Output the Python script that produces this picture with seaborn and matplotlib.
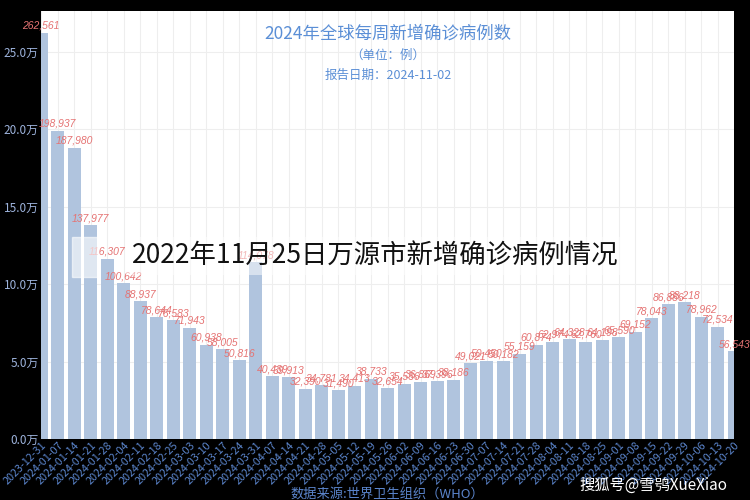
import pandas as pd
import seaborn as sns
import matplotlib.pyplot as plt
from matplotlib.patches import Rectangle

# Weekly report dates (week start) and new confirmed cases.
weeks = [
    '2023-12-31', '2024-01-07', '2024-01-14', '2024-01-21', '2024-01-28',
    '2024-02-04', '2024-02-11', '2024-02-18', '2024-02-25', '2024-03-03',
    '2024-03-10', '2024-03-17', '2024-03-24', '2024-03-31', '2024-04-07',
    '2024-04-14', '2024-04-21', '2024-04-28', '2024-05-05', '2024-05-12',
    '2024-05-19', '2024-05-26', '2024-06-02', '2024-06-09', '2024-06-16',
    '2024-06-23', '2024-06-30', '2024-07-07', '2024-07-14', '2024-07-21',
    '2024-07-28', '2024-08-04', '2024-08-11', '2024-08-18', '2024-08-25',
    '2024-09-01', '2024-09-08', '2024-09-15', '2024-09-22', '2024-09-29',
    '2024-10-06', '2024-10-13', '2024-10-20',
]
cases = [
    262561, 198937, 187980, 137977, 116307,
    100642, 88937, 78644, 76583, 71943,
    60938, 58005, 50816, 114078, 40439,
    39913, 32390, 34781, 31490, 34413,
    38733, 32654, 35536, 36869, 37396,
    38186, 49021, 50450, 50182, 55159,
    60874, 62974, 64328, 62760, 64198,
    65590, 69152, 78043, 86886, 88218,
    78962, 72534, 56543,
]
y_ticks = [0, 50000, 100000, 150000, 200000, 250000]

df = pd.DataFrame({'week': weeks, 'cases': cases})

cjk = ['Noto Sans CJK SC', 'DejaVu Sans']
plt.rcParams['font.family'] = cjk

fig = plt.figure(figsize=(7.5, 5), dpi=100, facecolor='black')
ax = fig.add_axes([0.055, 0.122, 0.924, 0.856])
ax.set_facecolor('white')

sns.barplot(data=df, x='week', y='cases', color='#b0c4de', saturation=1,
            width=0.78, ax=ax, zorder=2)

# Value labels above each bar
for i, v in enumerate(cases):
    ax.annotate(f'{v:,}', (i, v), xytext=(0, 1.5), textcoords='offset points',
                ha='center', va='bottom', fontsize=7.5, color='#e57373',
                style='italic', family='Liberation Sans', zorder=3)

ax.set_xlim(0, len(weeks) - 1)
ax.set_ylim(0, max(cases) * 1.053)
ax.set_yticks(y_ticks)
ax.set_yticklabels([f'{t / 10000:.1f}万' for t in y_ticks], color='#9db3dc', fontsize=8.5)
ax.tick_params(axis='x', labelrotation=45, labelsize=7.8, labelcolor='#5b85cc', length=0, pad=1)
ax.tick_params(axis='y', length=0, pad=2)
for lab in ax.get_xticklabels():
    lab.set_ha('right')
    lab.set_rotation_mode('anchor')

ax.grid(True, color='#eeeeee', linewidth=0.8, zorder=0)
ax.set_axisbelow(True)
for s in ax.spines.values():
    s.set_visible(False)

ax.set_xlabel('数据来源:世界卫生组织（WHO）', color='#5b85cc', fontsize=9.5, labelpad=1)
ax.set_ylabel('')

# Titles inside the plot area
ax.text(0.5, 0.948, '2024年全球每周新增确诊病例数', transform=ax.transAxes,
        ha='center', va='center', fontsize=12.5, color='#5b8fd6')
ax.text(0.5, 0.897, '（单位：例）', transform=ax.transAxes,
        ha='center', va='center', fontsize=9, color='#5b8fd6')
ax.text(0.5, 0.850, '报告日期：2024-11-02', transform=ax.transAxes,
        ha='center', va='center', fontsize=9, color='#5b8fd6')

# Overlaid watermark texts
fig.patches.append(Rectangle((72 / 750, 1 - 277 / 500), 26 / 750, 40 / 500,
                             transform=fig.transFigure, color='white', alpha=0.6, zorder=5))
fig.text(0.5, 1 - 256 / 500, '2022年11月25日万源市新增确诊病例情况', ha='center', va='center',
         fontsize=19, color='#111111', zorder=6,
         bbox=dict(facecolor='white', alpha=0.5, edgecolor='none', pad=4))
fig.text(0.97, 1 - 485 / 500, '搜狐号@雪鸮XueXiao', ha='right', va='center',
         fontsize=11, color='white', zorder=6)

fig.savefig('out.png', dpi=100, facecolor='black')
